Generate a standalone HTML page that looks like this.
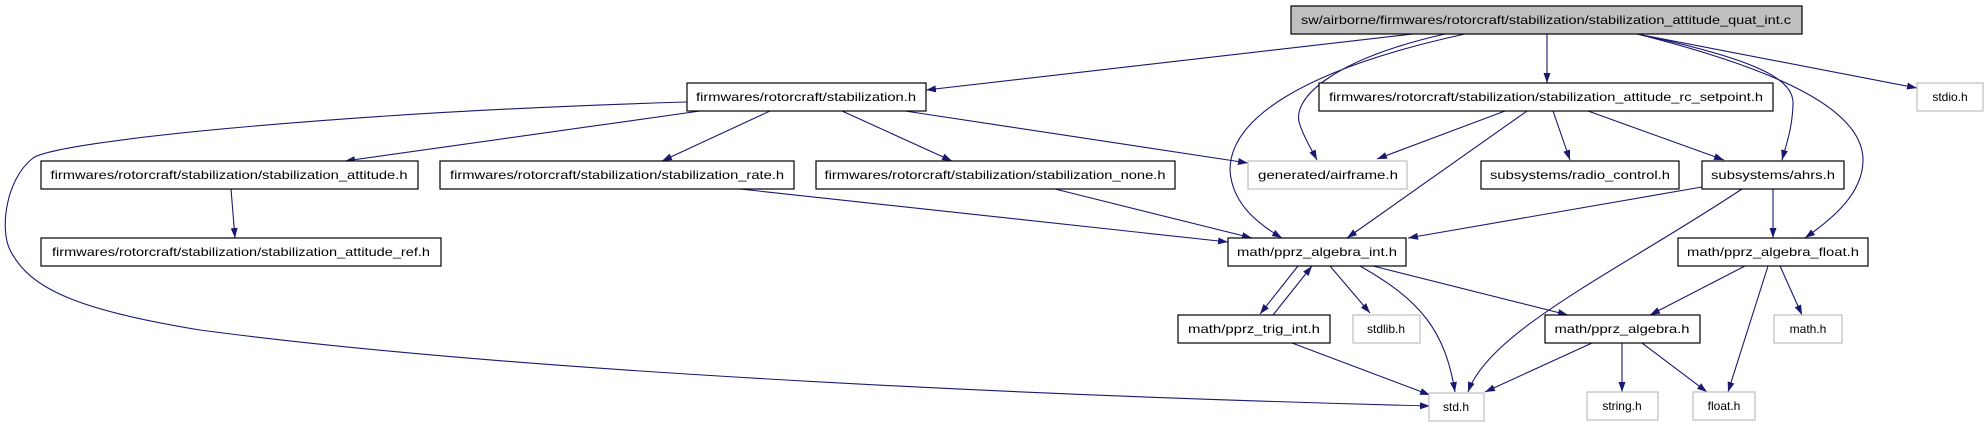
<!DOCTYPE html>
<html><head><meta charset="utf-8"><style>
html,body{margin:0;padding:0;background:#fff;width:1988px;height:427px;overflow:hidden}
svg text{font-family:"Liberation Sans",sans-serif;font-size:12px;fill:#000}
</style></head><body>
<svg width="1988" height="427" viewBox="0 0 1988 427" xmlns="http://www.w3.org/2000/svg">
<defs><marker id="a" markerWidth="10" markerHeight="8" refX="10" refY="3.5" orient="auto" markerUnits="userSpaceOnUse"><path d="M0,0 L10,3.5 L0,7 z" fill="#191970"/></marker></defs>
<g fill="none" stroke="#191970" stroke-width="1.1" marker-end="url(#a)">
<path d="M1413,34 L926,90"/>
<path d="M1445,34 C1330,60 1290,100 1300,125 C1305,140 1312,150 1317,160"/>
<path d="M1465,34 C1300,70 1230,120 1230,170 C1232,205 1260,225 1282,238"/>
<path d="M1547,34 L1547,83"/>
<path d="M1637,34 C1760,60 1795,80 1793,105 C1792,130 1786,145 1782,160"/>
<path d="M1637,34 C1780,70 1863,110 1863,160 C1863,195 1830,220 1805,238"/>
<path d="M1637,34 L1917,88"/>
<path d="M687,102 C350,112 60,140 33,158 C5,180 0,230 10,250 C30,290 80,310 200,330 C500,370 1000,395 1430,406"/>
<path d="M700,111 L345,161"/>
<path d="M770,111 L662,161"/>
<path d="M842,111 L952,161"/>
<path d="M905,111 L1248,163"/>
<path d="M231,189 L235,238"/>
<path d="M740,189 L1228,242"/>
<path d="M1055,189 L1252,238"/>
<path d="M1505,111 L1377,159"/>
<path d="M1527,111 L1347,238"/>
<path d="M1553,111 L1570,160"/>
<path d="M1588,111 L1724,160"/>
<path d="M1702,187 L1408,238"/>
<path d="M1742,189 C1620,270 1490,330 1468,392"/>
<path d="M1773,189 L1773,238"/>
<path d="M1298,266 L1260,314"/>
<path d="M1273,315 L1312,266"/>
<path d="M1330,266 L1370,313"/>
<path d="M1360,266 C1420,300 1445,330 1455,392"/>
<path d="M1373,266 L1568,315"/>
<path d="M1745,266 L1650,315"/>
<path d="M1768,266 L1728,392"/>
<path d="M1780,266 L1802,315"/>
<path d="M1592,343 L1485,392"/>
<path d="M1622,343 L1622,392"/>
<path d="M1642,343 L1707,392"/>
<path d="M1292,343 L1430,395"/>
</g>
<g stroke-width="1.2">
<rect x="1291" y="6" width="511" height="28" fill="#bfbfbf" stroke="#000"/>
<rect x="687" y="83" width="239" height="28" fill="#fff" stroke="#000"/>
<rect x="1319" y="83" width="454" height="28" fill="#fff" stroke="#000"/>
<rect x="1917" y="83" width="66" height="28" fill="#fff" stroke="#bfbfbf"/>
<rect x="41" y="161" width="377" height="28" fill="#fff" stroke="#000"/>
<rect x="440" y="161" width="354" height="28" fill="#fff" stroke="#000"/>
<rect x="816" y="161" width="359" height="28" fill="#fff" stroke="#000"/>
<rect x="1248" y="161" width="159" height="28" fill="#fff" stroke="#bfbfbf"/>
<rect x="1481" y="161" width="198" height="28" fill="#fff" stroke="#000"/>
<rect x="1702" y="161" width="142" height="28" fill="#fff" stroke="#000"/>
<rect x="41" y="238" width="400" height="28" fill="#fff" stroke="#000"/>
<rect x="1228" y="238" width="178" height="28" fill="#fff" stroke="#000"/>
<rect x="1678" y="238" width="190" height="28" fill="#fff" stroke="#000"/>
<rect x="1178" y="315" width="152" height="28" fill="#fff" stroke="#000"/>
<rect x="1353" y="315" width="67" height="28" fill="#fff" stroke="#bfbfbf"/>
<rect x="1545" y="315" width="155" height="28" fill="#fff" stroke="#000"/>
<rect x="1774" y="315" width="68" height="28" fill="#fff" stroke="#bfbfbf"/>
<rect x="1429" y="393" width="55" height="28" fill="#fff" stroke="#bfbfbf"/>
<rect x="1587" y="392" width="71" height="28" fill="#fff" stroke="#bfbfbf"/>
<rect x="1693" y="392" width="62" height="28" fill="#fff" stroke="#bfbfbf"/>
</g>
<g text-anchor="middle">
<text x="1546" y="24" textLength="490" lengthAdjust="spacingAndGlyphs">sw/airborne/firmwares/rotorcraft/stabilization/stabilization_attitude_quat_int.c</text>
<text x="806" y="101" textLength="220" lengthAdjust="spacingAndGlyphs">firmwares/rotorcraft/stabilization.h</text>
<text x="1546" y="101" textLength="434" lengthAdjust="spacingAndGlyphs">firmwares/rotorcraft/stabilization/stabilization_attitude_rc_setpoint.h</text>
<text x="1950" y="101">stdio.h</text>
<text x="229" y="179" textLength="357" lengthAdjust="spacingAndGlyphs">firmwares/rotorcraft/stabilization/stabilization_attitude.h</text>
<text x="617" y="179" textLength="334" lengthAdjust="spacingAndGlyphs">firmwares/rotorcraft/stabilization/stabilization_rate.h</text>
<text x="995" y="179" textLength="341" lengthAdjust="spacingAndGlyphs">firmwares/rotorcraft/stabilization/stabilization_none.h</text>
<text x="1328" y="179" textLength="140" lengthAdjust="spacingAndGlyphs">generated/airframe.h</text>
<text x="1580" y="179" textLength="180" lengthAdjust="spacingAndGlyphs">subsystems/radio_control.h</text>
<text x="1773" y="179" textLength="124" lengthAdjust="spacingAndGlyphs">subsystems/ahrs.h</text>
<text x="241" y="256" textLength="378" lengthAdjust="spacingAndGlyphs">firmwares/rotorcraft/stabilization/stabilization_attitude_ref.h</text>
<text x="1317" y="256" textLength="160" lengthAdjust="spacingAndGlyphs">math/pprz_algebra_int.h</text>
<text x="1773" y="256" textLength="172" lengthAdjust="spacingAndGlyphs">math/pprz_algebra_float.h</text>
<text x="1254" y="333" textLength="132" lengthAdjust="spacingAndGlyphs">math/pprz_trig_int.h</text>
<text x="1386" y="333">stdlib.h</text>
<text x="1622" y="333" textLength="135" lengthAdjust="spacingAndGlyphs">math/pprz_algebra.h</text>
<text x="1808" y="333">math.h</text>
<text x="1456" y="411">std.h</text>
<text x="1622" y="410">string.h</text>
<text x="1724" y="410">float.h</text>
</g>
</svg>
</body></html>
